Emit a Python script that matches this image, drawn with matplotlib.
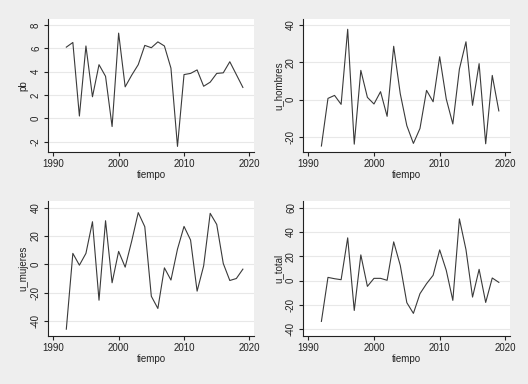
import matplotlib

matplotlib.use('Agg')
import matplotlib.pyplot as plt

plt.rcParams['font.family'] = ['Liberation Sans', 'DejaVu Sans']

# ── data ────────────────────────────────────────────────────────────────
years = list(range(1992, 2020))

pb = [6.1, 6.5, 0.2, 6.2, 1.85, 4.6, 3.6, -0.7, 7.3, 2.7, 3.7, 4.6, 6.25, 6.05,
      6.55, 6.2, 4.3, -2.4, 3.75, 3.85, 4.15, 2.75, 3.1, 3.85, 3.9, 4.85, 3.75, 2.65]
u_hombres = [-24.8, 0.7, 2.3, -2.5, 37.7, -23.8, 15.7, 1.25, -2.3, 4.3, -8.9, 28.6,
             3.2, -13.9, -23.4, -15.4, 5.0, -1.1, 23.0, 0.4, -13.0, 16.4, 31.0, -3.0,
             19.3, -23.6, 13.0, -6.0]
u_mujeres = [-45.6, 7.8, -0.5, 7.8, 30.1, -25.2, 30.8, -12.9, 9.2, -1.9, 16.5, 36.5,
             26.6, -22.4, -31.0, -2.4, -11.0, 10.8, 26.8, 17.2, -18.8, -1.0, 36.0, 28.2,
             0.7, -11.3, -9.9, -3.3]
u_total = [-33.5, 2.7, 1.6, 0.8, 35.2, -24.5, 21.2, -4.7, 1.9, 1.9, 0.3, 31.9, 12.6,
           -18.1, -26.9, -10.7, -2.5, 4.4, 25.3, 8.5, -16.2, 50.8, 25.5, -13.5, 9.3,
           -17.9, 2.2, -1.4]

x_ticks = [1990, 2000, 2010, 2020]

panels = [
    ('pb', pb, [-2, 0, 2, 4, 6, 8], (-2.88, 8.51)),
    ('u_hombres', u_hombres, [-20, 0, 20, 40], (-28.0, 43.2)),
    ('u_mujeres', u_mujeres, [-40, -20, 0, 20, 40], (-50.4, 44.7)),
    ('u_total', u_total, [-40, -20, 0, 20, 40, 60], (-45.5, 65.5)),
]

# axes boxes in pixels: left, top, right, bottom
W, H = 528, 384
boxes = [(48, 19, 254, 152), (303, 19, 510, 152),
         (48, 201, 254, 336), (303, 201, 510, 336)]

BG = '#eeeeee'
INK = '#222222'
fig = plt.figure(figsize=(W / 100, H / 100), dpi=100, facecolor=BG)

for (name, vals, yt, ylim), (l, t, r, b) in zip(panels, boxes):
    ax = fig.add_axes([l / W, 1 - b / H, (r - l) / W, (b - t) / H])
    ax.set_facecolor('white')
    ax.plot(years, vals, color='#3a3a3a', lw=0.8)
    ax.set_xlim(1989.2, 2020.7)
    ax.set_ylim(*ylim)
    ax.set_xticks(x_ticks)
    ax.set_yticks(yt)
    ax.set_yticklabels([str(v) for v in yt], rotation=90, va='center')
    ax.grid(axis='y', color='#e8e8e8', lw=0.8)
    ax.set_axisbelow(True)
    for sp in ('top', 'right'):
        ax.spines[sp].set_visible(False)
    for sp in ('left', 'bottom'):
        ax.spines[sp].set_color(INK)
        ax.spines[sp].set_linewidth(0.8)
    ax.tick_params(length=3, width=0.8, color=INK, labelsize=7,
                   labelcolor=INK, pad=2)
    ax.set_xlabel('tiempo', fontsize=7, color=INK, labelpad=1)
    ax.set_ylabel(name, fontsize=7, color=INK, labelpad=2)

fig.savefig('out.png', dpi=100, facecolor=BG)
